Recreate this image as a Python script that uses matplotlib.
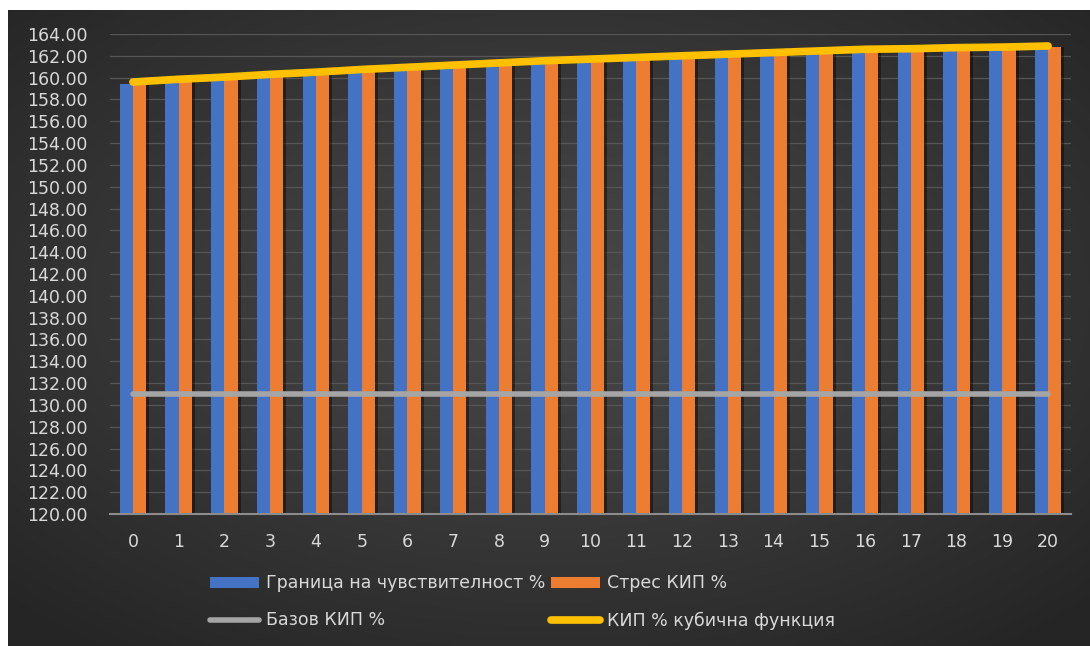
import numpy as np
import matplotlib
matplotlib.use('Agg')
import matplotlib.pyplot as plt
from matplotlib.colors import LinearSegmentedColormap

plt.rcParams['font.family'] = ['DejaVu Sans']

# данни
periods = list(range(21))
kip_cubic = [159.6, 159.85, 160.05, 160.3, 160.5, 160.75, 160.95, 161.15, 161.35, 161.55, 161.7,
             161.85, 162.0, 162.15, 162.3, 162.45, 162.6, 162.65, 162.75, 162.8, 162.9]
sensitivity = [159.45, 159.7, 159.9, 160.15, 160.35, 160.6, 160.8, 161.0, 161.2, 161.4, 161.55,
               161.7, 161.85, 162.0, 162.15, 162.3, 162.45, 162.5, 162.6, 162.65, 162.75]
stress_kip = [159.5, 159.75, 159.95, 160.2, 160.4, 160.65, 160.85, 161.05, 161.25, 161.45, 161.6,
              161.75, 161.9, 162.05, 162.2, 162.35, 162.5, 162.55, 162.65, 162.7, 162.85]
base_kip = [131.0] * 21
y_ticks = np.arange(120, 165, 2)

W, H = 1090, 646
fig = plt.figure(figsize=(W / 100, H / 100), dpi=100, facecolor='white')

# тъмен фон с радиален преход
bg = fig.add_axes([8 / W, 0, (W - 8) / W, (H - 10) / H], zorder=-1)
yy, xx = np.mgrid[0:1:300j, 0:1:500j]
r = np.sqrt(((xx - 0.5) / 0.5) ** 2 + ((yy - 0.45) / 0.5) ** 2) / np.sqrt(2)
cmap = LinearSegmentedColormap.from_list('bg', ['#484848', '#252525'])
bg.imshow(np.clip(r, 0, 1) ** 1.1, cmap=cmap, vmin=0, vmax=1, aspect='auto', extent=[0, 1, 0, 1])
bg.axis('off')

ax = fig.add_axes([110 / W, 132 / H, 961 / W, 480 / H])
ax.set_facecolor('none')

x = np.array(periods)
bw = 0.29
blue = '#4472C4'
orange = '#ED7D31'

# сянка зад колоните
ax.bar(x - bw / 2 + 0.04, sensitivity, bw + 0.05, color='black', alpha=0.4, zorder=1)
ax.bar(x + bw / 2 + 0.04, stress_kip, bw + 0.05, color='black', alpha=0.4, zorder=1)
b1 = ax.bar(x - bw / 2, sensitivity, bw, color=blue, zorder=2, label='Граница на чувствителност %')
b2 = ax.bar(x + bw / 2, stress_kip, bw, color=orange, zorder=2, label='Стрес КИП %')

l1, = ax.plot(x, base_kip, color='#A5A5A5', lw=4, solid_capstyle='round', zorder=3, label='Базов КИП %')
l2, = ax.plot(x, kip_cubic, color='#FFC000', lw=5.5, solid_capstyle='round', zorder=4,
              label='КИП % кубична функция')

ax.set_xlim(-0.5, 20.5)
ax.set_ylim(120, 164)
ax.set_yticks(y_ticks)
ax.set_yticklabels([f'{v:.2f}' for v in y_ticks])
ax.set_xticks(x)
ax.set_xticklabels([str(p) for p in periods])
ax.grid(axis='y', color='#565656', lw=0.9, zorder=0)
ax.set_axisbelow(True)

for s in ['top', 'right', 'left']:
    ax.spines[s].set_visible(False)
ax.spines['bottom'].set_color('#8c8c8c')
ax.spines['bottom'].set_linewidth(1.5)
ax.spines['bottom'].set_zorder(5)
ax.tick_params(axis='y', length=0, pad=16, labelsize=12.5, labelcolor='#d9d9d9')
ax.tick_params(axis='x', length=0, pad=14, labelsize=12.5, labelcolor='#d9d9d9')

leg = fig.legend([b1, l1, b2, l2],
                 ['Граница на чувствителност %', 'Базов КИП %', 'Стрес КИП %', 'КИП % кубична функция'],
                 ncol=2, loc='center left', bbox_to_anchor=(210 / W, 44 / H),
                 frameon=False, fontsize=12.5, labelcolor='#d9d9d9', borderpad=0,
                 borderaxespad=0, handlelength=2.85, handletextpad=0.35, columnspacing=0.35,
                 labelspacing=1.1, handleheight=0.6)

plt.savefig('out.png', dpi=100, facecolor='white')
